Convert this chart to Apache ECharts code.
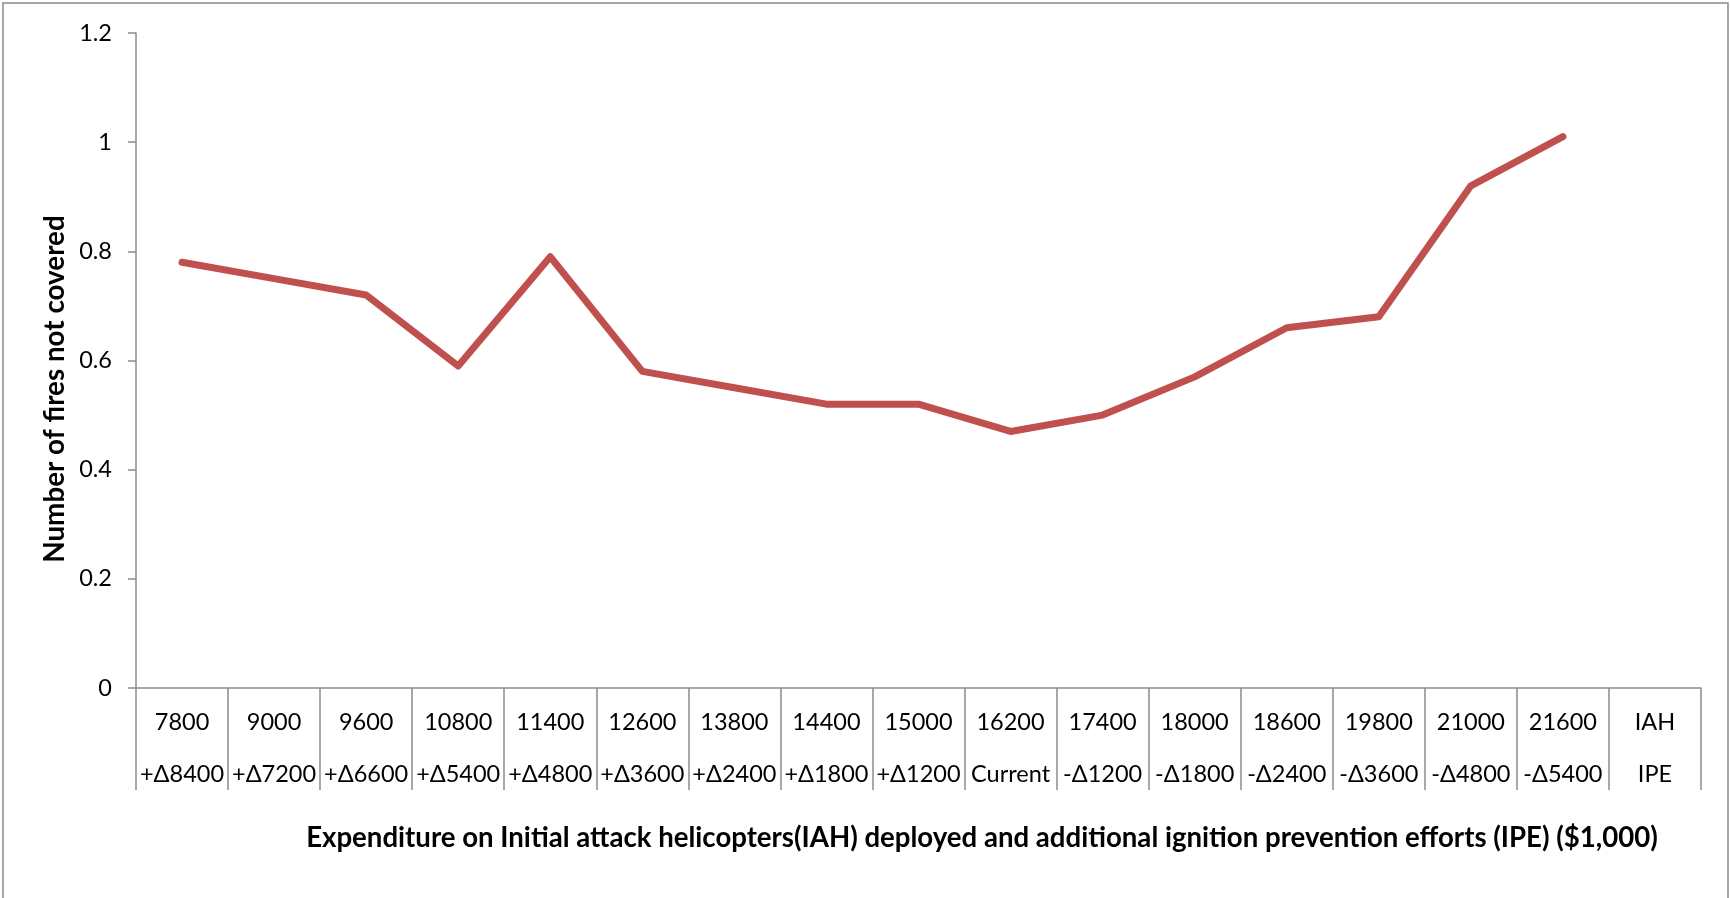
<!DOCTYPE html>
<html>
<head>
<meta charset="utf-8">
<title>Number of fires not covered</title>
<script src="https://cdn.jsdelivr.net/npm/echarts@6/dist/echarts.min.js"></script>
<style>
  html, body { margin: 0; padding: 0; background: #ffffff; }
  #chart { width: 1730px; height: 898px; }
</style>
</head>
<body>
<div id="chart"></div>
<script>
// Expenditure on IAH (top label row)
const iahSpend = ['7800', '9000', '9600', '10800', '11400', '12600', '13800', '14400',
  '15000', '16200', '17400', '18000', '18600', '19800', '21000', '21600', 'IAH'];
// Change in IPE relative to current (bottom label row)
const ipeChange = ['+Δ8400', '+Δ7200', '+Δ6600', '+Δ5400', '+Δ4800', '+Δ3600', '+Δ2400', '+Δ1800',
  '+Δ1200', 'Current', '-Δ1200', '-Δ1800', '-Δ2400', '-Δ3600', '-Δ4800', '-Δ5400', 'IPE'];
// Number of fires not covered for each spending mix
const firesNotCovered = [0.78, 0.75, 0.72, 0.59, 0.79, 0.58, 0.55, 0.52,
  0.52, 0.47, 0.50, 0.57, 0.66, 0.68, 0.92, 1.01];
// Value axis ticks
const yMin = 0, yMax = 1.2, yStep = 0.2;

const FONT = 'Lato, "Open Sans", sans-serif';
const AXIS_GRAY = '#8c8c8c';

const chart = echarts.init(document.getElementById('chart'), null, { renderer: 'canvas' });

chart.setOption({
  animation: false,
  backgroundColor: '#ffffff',
  grid: { left: 136, right: 29, top: 33, bottom: 210, containLabel: false },
  xAxis: {
    type: 'category',
    data: iahSpend,
    boundaryGap: true,
    axisLine: { show: true, lineStyle: { color: AXIS_GRAY, width: 1.5 } },
    axisTick: { show: true, interval: 0, length: 102, lineStyle: { color: AXIS_GRAY, width: 1.5 } },
    axisLabel: {
      interval: 0,
      margin: 8,
      color: '#000000',
      fontFamily: FONT,
      fontSize: 23.5,
      lineHeight: 52,
      formatter: (value, idx) => value + '\n' + ipeChange[idx]
    },
    splitLine: { show: false }
  },
  yAxis: {
    type: 'value',
    min: yMin,
    max: yMax,
    interval: yStep,
    axisLine: { show: true, lineStyle: { color: AXIS_GRAY, width: 1.5 } },
    axisTick: { show: true, length: 8, lineStyle: { color: AXIS_GRAY, width: 1.5 } },
    axisLabel: {
      margin: 24,
      color: '#000000',
      fontFamily: FONT,
      fontSize: 23.5,
      formatter: v => String(Math.round(v * 10) / 10)
    },
    splitLine: { show: false }
  },
  series: [{
    type: 'line',
    data: firesNotCovered,
    showSymbol: false,
    symbol: 'none',
    lineStyle: { color: '#C0504D', width: 7, cap: 'round', join: 'round' },
    itemStyle: { color: '#C0504D' }
  }],
  graphic: [
    {
      type: 'rect',
      shape: { x: 3, y: 3, width: 1725, height: 900 },
      style: { fill: 'none', stroke: '#8a8a8a', lineWidth: 1.5 },
      silent: true
    },
    {
      type: 'text',
      x: 982,
      y: 838,
      style: {
        text: 'Expenditure on Initial attack helicopters(IAH) deployed and additional ignition prevention efforts (IPE) ($1,000)',
        font: 'bold 27.6px ' + FONT,
        fill: '#000000',
        align: 'center',
        verticalAlign: 'middle'
      }
    },
    {
      type: 'text',
      x: 55,
      y: 389,
      rotation: Math.PI / 2,
      style: {
        text: 'Number of fires not covered',
        font: 'bold 27.8px ' + FONT,
        fill: '#000000',
        align: 'center',
        verticalAlign: 'middle'
      }
    }
  ]
});
</script>
</body>
</html>
